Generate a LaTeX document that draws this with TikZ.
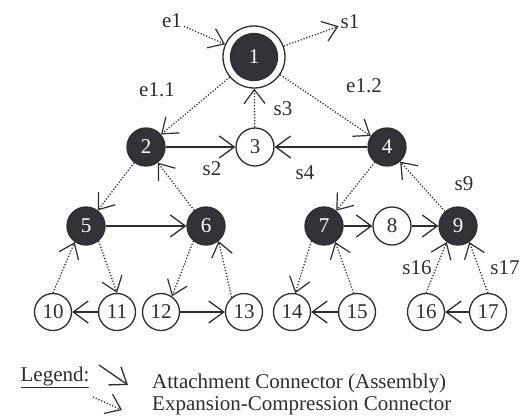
\documentclass[tikz,border=0pt]{standalone}
\usepackage{fontspec}
\setmainfont{Liberation Serif}
\usetikzlibrary{arrows.meta}
\definecolor{compfill}{RGB}{52,50,56}
\definecolor{inkgray}{RGB}{45,45,45}

\begin{document}
\begin{tikzpicture}[x=1pt, y=-1pt, font=\fontsize{21}{25}\selectfont,
    comp/.style={circle, draw=inkgray, fill=compfill, text=white, line width=1.3pt, minimum size=38pt, inner sep=0pt},
    port/.style={circle, draw=inkgray, fill=white, text=inkgray, line width=1.3pt, minimum size=38pt, inner sep=0pt},
    leaf/.style={port, minimum size=37pt},
    lbl/.style={text=inkgray, inner sep=2pt},
    attach/.style={draw=inkgray, line width=1.3pt, -{Straight Barb[length=15pt, width=22pt, line width=1.3pt]}},
    expand/.style={draw=inkgray, line width=1.3pt, dash pattern=on 1.2pt off 1.8pt, -{Straight Barb[length=14pt, width=21pt, line width=1.2pt]}}]
    \useasboundingbox (0,0) rectangle (528,416);
    % top component
    \node[port, minimum size=62pt] (1) at (254,57) {};
    \node[comp, minimum size=47pt] (1i) at (1) {1};
    % components and ports
    \foreach \n/\x/\y in {2/146/147, 4/387/147, 5/86/226, 6/206/226, 7/324/226, 9/458/226} {
        \node[comp] (\n) at (\x,\y) {\n};
    }
    \foreach \n/\x/\y in {3/255/147, 8/392/226} {
        \node[port] (\n) at (\x,\y) {\n};
    }
    \foreach \n/\x in {10/53, 11/117, 12/161, 13/244, 14/292, 15/357, 16/426, 17/488} {
        \node[leaf] (\n) at (\x,312) {\n};
    }
    % connectors
    \foreach \a/\b in {2/3, 4/3, 5/6, 7/8, 8/9, 11/10, 12/13, 15/14, 17/16} {
        \draw[attach] (\a) -- (\b);
    }
    \foreach \a/\b in {1/2, 1/4, 3/1, 2/5, 6/2, 4/7, 9/4, 5.310/11.north, 10.north/5.235,
                       6.230/12.55, 13.130/6.310, 7.230/14.80, 15.100/7.305, 16.north/9.235, 17.north/9.305} {
        \draw[expand] (\a) -- (\b);
    }
    % labels
    \node[lbl] (e1) at (172,21) {e1};
    \node[lbl] (s1) at (350,22) {s1};
    \draw[expand] (e1) -- (1);
    \draw[expand] (1) -- (s1);
    \node[lbl] (e11) at (157,90) {e1.1};
    \node[lbl] (e12) at (364,86) {e1.2};
    \node[lbl] (s3) at (283,109) {s3};
    \node[lbl] (s2) at (212,169) {s2};
    \node[lbl] (s4) at (305,173) {s4};
    \node[lbl] (s9) at (464,184) {s9};
    \node[lbl] (s16) at (417,268) {s16};
    \node[lbl] (s17) at (505,268) {s17};
    % legend
    \node[lbl] (legend) at (55,377) {\underline{Legend:}};
    \coordinate (la) at (99,365);
    \coordinate (lb) at (128,385);
    \coordinate (lc) at (93,397);
    \coordinate (ld) at (122,410);
    \draw[attach] (la) -- (lb);
    \draw[expand] (lc) -- (ld);
    \node[lbl, anchor=west] (attachtxt) at (150,383) {Attachment Connector (Assembly)};
    \node[lbl, anchor=west] (expandtxt) at (150,406) {Expansion-Compression Connector};
\end{tikzpicture}
\end{document}
